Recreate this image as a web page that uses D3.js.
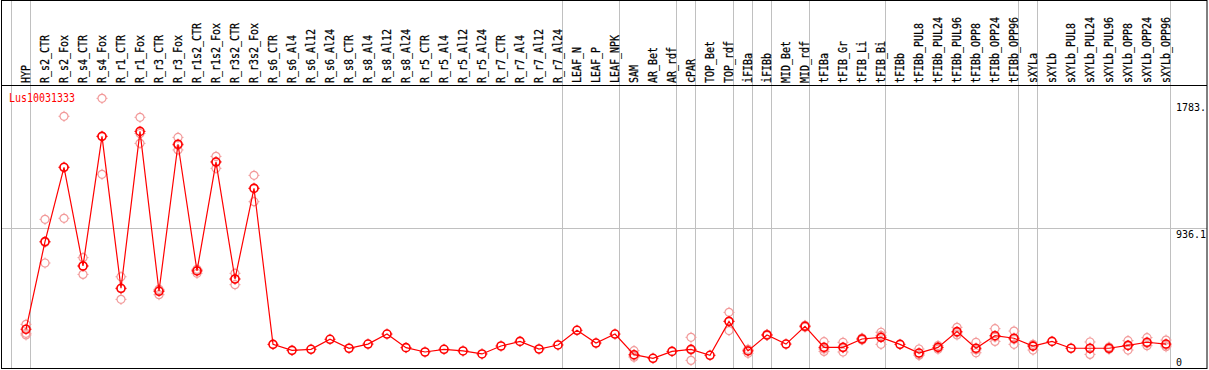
<!DOCTYPE html>
<html>
<head>
<meta charset="utf-8">
<script src="https://cdn.jsdelivr.net/npm/d3@7"></script>
<style>
  body { margin: 0; background: #fff; }
  text { font-family: "DejaVu Sans Mono", monospace; font-size: 12px; }
</style>
</head>
<body>
<svg id="chart"></svg>
<script>
var gene = "Lus10031333"

var samples = ["HYP", "R_s2_CTR", "R_s2_Fox", "R_s4_CTR", "R_s4_Fox", "R_r1_CTR", "R_r1_Fox",
  "R_r3_CTR", "R_r3_Fox", "R_r1s2_CTR", "R_r1s2_Fox", "R_r3s2_CTR", "R_r3s2_Fox",
  "R_s6_CTR", "R_s6_Al4", "R_s6_Al12", "R_s6_Al24", "R_s8_CTR", "R_s8_Al4", "R_s8_Al12", "R_s8_Al24",
  "R_r5_CTR", "R_r5_Al4", "R_r5_Al12", "R_r5_Al24", "R_r7_CTR", "R_r7_Al4", "R_r7_Al12", "R_r7_Al24",
  "LEAF_N", "LEAF_P", "LEAF_NPK", "SAM", "AR_Bet", "AR_rdf", "cPAR", "TOP_Bet", "TOP_rdf",
  "iFIBa", "iFIBb", "MID_Bet", "MID_rdf", "tFIBa", "tFIB_Gr", "tFIB_Li", "tFIB_Bi", "tFIBb",
  "tFIBb_PUL8", "tFIBb_PUL24", "tFIBb_PUL96", "tFIBb_OPP8", "tFIBb_OPP24", "tFIBb_OPP96",
  "sXYLa", "sXYLb", "sXYLb_PUL8", "sXYLb_PUL24", "sXYLb_PUL96", "sXYLb_OPP8", "sXYLb_OPP24", "sXYLb_OPP96"]

var meanExpr = [259, 845, 1342, 682, 1549, 533, 1582, 513, 1496, 649, 1377, 595, 1201,
  158, 118, 125, 192, 132, 160, 227, 136, 107, 125, 114, 94, 147, 178, 127, 154,
  252, 167, 227, 89, 65, 111, 125, 85, 312, 114, 221, 160, 279, 138, 138, 194, 205, 158,
  100, 138, 243, 132, 216, 199, 146, 178, 132, 132, 132, 151, 172, 160]

var replicates = [[292, 232, 221], [994, 702, 840], [1683, 1001, 1342], [738, 626, 682],
  [1803, 1295, 1549], [610, 459, 530], [1676, 1502, 1568], [526, 490, 520], [1542, 1458, 1490],
  [660, 633, 655], [1415, 1335, 1380], [633, 557, 595], [1288, 1112, 1203],
  [], [], [], [], [], [], [], [], [], [], [], [], [], [], [], [], [], [], [],
  [116, 80, 72], [], [], [205, 51, 120], [], [372, 250, 312], [125, 98, 118], [225, 217, 221],
  [], [285, 273, 279], [176, 111, 127], [172, 107, 135], [200, 188, 194], [239, 158, 218], [],
  [127, 87, 86], [150, 126, 138], [272, 221, 236], [172, 102, 122], [263, 178, 207], [247, 158, 192],
  [158, 120, 150], [], [], [174, 91, 131], [140, 125, 131], [183, 120, 150], [203, 149, 165], [187, 142, 152]]

// group separators come after these samples
var groupEnds = ["HYP", "R_r7_Al24", "LEAF_NPK", "AR_rdf", "cPAR", "TOP_rdf", "iFIBa", "iFIBb",
  "MID_rdf", "tFIB_Bi", "tFIBb_OPP96", "sXYLa", "sXYLb_OPP96"]

var yTicks = [0, 936.1, 1783]
var yTickLabels = ["0", "936.1", "1783."]

var dimensions = {
    width: 1209,
    height: 370,
    headerBottom: 85,
    plotBottom: 368,
    margin: { left: 1, right: 2 }
}

var svg = d3.select("#chart")
            .attr("width", dimensions.width)
            .attr("height", dimensions.height)

var xScale = d3.scalePoint()
               .domain(samples)
               .range([26, 1166])
var step = xScale.step()

var yScale = d3.scaleLinear()
               .domain([0, 936.1])
               .range([dimensions.plotBottom, 228])

var grey = "#c0c0c0"

// vertical separators
var sepX = [xScale(samples[0]) - step].concat(groupEnds.map(d => xScale(d)))
svg.append("g")
   .selectAll("line")
   .data(sepX)
   .enter()
   .append("line")
   .attr("x1", d => Math.round(d + 4) + 0.5)
   .attr("x2", d => Math.round(d + 4) + 0.5)
   .attr("y1", 0)
   .attr("y2", dimensions.plotBottom)
   .attr("stroke", grey)

// horizontal grid at middle tick
svg.append("line")
   .attr("x1", dimensions.margin.left)
   .attr("x2", dimensions.width - dimensions.margin.right)
   .attr("y1", yScale(yTicks[1]) + 0.5)
   .attr("y2", yScale(yTicks[1]) + 0.5)
   .attr("stroke", grey)

// frame
svg.append("rect")
   .attr("x", 1.5).attr("y", 0.5)
   .attr("width", dimensions.width - 3.5)
   .attr("height", dimensions.plotBottom)
   .attr("fill", "none")
   .attr("stroke", "black")
svg.append("line")
   .attr("x1", 1).attr("x2", dimensions.width - 2)
   .attr("y1", dimensions.headerBottom + 0.5).attr("y2", dimensions.headerBottom + 0.5)
   .attr("stroke", "black")

// sample labels
svg.append("g")
   .selectAll("text")
   .data(samples)
   .enter()
   .append("text")
   .attr("transform", d => `translate(${xScale(d) + 3.6},${dimensions.headerBottom - 2}) rotate(-90)`)
   .attr("textLength", d => d.length * 6)
   .attr("lengthAdjust", "spacingAndGlyphs")
   .attr("fill", "black")
   .attr("stroke", "black")
   .attr("stroke-width", 0.25)
   .text(d => d)

// y labels on right
svg.append("g")
   .selectAll("text")
   .data(yTicks)
   .enter()
   .append("text")
   .attr("x", 1176)
   .attr("y", d => Math.min(yScale(d) + 9.5, 366))
   .style("font-size", "10px")
   .attr("fill", "black")
   .text((d, i) => yTickLabels[i])

// title
svg.append("text")
   .attr("x", 9)
   .attr("y", 101.5)
   .attr("textLength", gene.length * 6)
   .attr("lengthAdjust", "spacingAndGlyphs")
   .attr("fill", "red")
   .text(gene)

function marker(g, color, width) {
    g.append("circle")
     .attr("r", 4)
     .attr("fill", "none")
     .attr("stroke", color)
     .attr("stroke-width", width)
    g.append("path")
     .attr("d", "M0,-5.5V-4M0,4V5.5M-5.5,0H-4M4,0H5.5")
     .attr("stroke", color)
     .attr("stroke-width", 1)
}

// replicate points
var repData = []
replicates.forEach((r, i) => r.forEach(v => repData.push({ s: samples[i], v: v })))
svg.append("g")
   .selectAll("g")
   .data(repData)
   .enter()
   .append("g")
   .attr("transform", d => `translate(${xScale(d.s)},${yScale(d.v)})`)
   .each(function() { marker(d3.select(this), "#f29a9a", 1.2) })

// mean line
var lineGen = d3.line()
                .x((d, i) => xScale(samples[i]))
                .y(d => yScale(d))
svg.append("path")
   .datum(meanExpr)
   .attr("d", lineGen)
   .attr("fill", "none")
   .attr("stroke", "red")
   .attr("stroke-width", 1.2)

svg.append("g")
   .selectAll("g")
   .data(meanExpr)
   .enter()
   .append("g")
   .attr("transform", (d, i) => `translate(${xScale(samples[i])},${yScale(d)})`)
   .each(function() { marker(d3.select(this), "red", 1.6) })
</script>
</body>
</html>
